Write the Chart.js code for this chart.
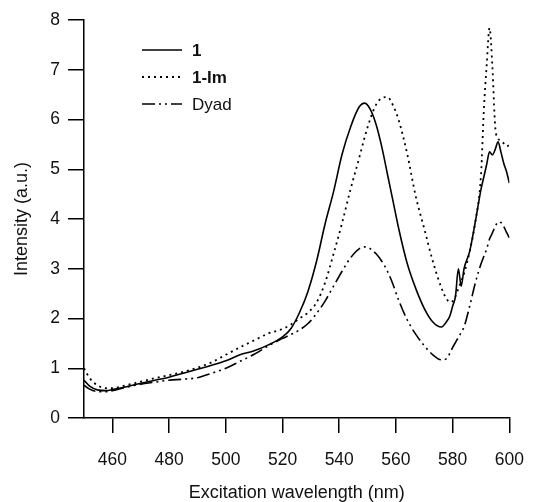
<!DOCTYPE html>
<html>
<head>
<meta charset="utf-8">
<script src="https://cdn.jsdelivr.net/npm/chart.js@4.4.1/dist/chart.umd.min.js"></script>
<style>
  body { margin:0; background:#fff; }
  #wrap { width:541px; height:502px; }
</style>
</head>
<body>
<div id="wrap"><canvas id="spec"></canvas></div>
<script>
// --- données ---
const wavelengths = [450,452,455,458,460,465,470,475,480,485,490,495,500,505,510,515,520,523,526,529,
  532,535,538,541,544,547,549,551,553,555,557,559,561,564,567,570,573,576,578,579,
  580,581,582,583,584,586,588,590,591,592,593,594,595,596,597,598,599,600];
const series1 = [0.76,0.64,0.56,0.55,0.57,0.63,0.70,0.76,0.82,0.90,0.98,1.06,1.15,1.27,1.35,1.47,1.63,1.80,2.12,2.55,
  3.15,3.90,4.55,5.30,5.85,6.25,6.33,6.20,5.90,5.45,4.90,4.35,3.80,3.10,2.60,2.20,1.93,1.83,1.95,2.05,
  2.25,2.45,3.00,2.65,3.00,3.35,3.95,4.60,4.85,5.10,5.35,5.29,5.40,5.55,5.35,5.12,4.95,4.72];
const series1Im = [1.00,0.80,0.65,0.60,0.60,0.66,0.73,0.80,0.86,0.93,1.01,1.12,1.27,1.42,1.56,1.70,1.79,1.88,2.00,2.12,
  2.32,2.72,3.30,3.92,4.60,5.22,5.65,6.02,6.30,6.43,6.45,6.28,5.98,5.30,4.45,3.80,3.15,2.62,2.38,2.33,
  2.35,2.45,2.60,2.75,2.90,3.35,3.95,4.90,6.20,7.10,7.84,7.06,5.85,5.62,5.57,5.52,5.46,5.49];
const seriesDyad = [0.66,0.58,0.53,0.53,0.55,0.62,0.68,0.72,0.76,0.78,0.81,0.90,1.00,1.14,1.28,1.45,1.60,1.68,1.77,1.90,
  2.10,2.35,2.65,2.95,3.22,3.40,3.44,3.40,3.30,3.15,2.95,2.68,2.36,1.97,1.68,1.45,1.27,1.17,1.20,1.30,
  1.42,1.52,1.62,1.72,1.83,2.25,2.72,3.10,3.25,3.40,3.60,3.72,3.85,3.94,3.93,3.85,3.73,3.62];
const legendLabels = ['1','1-Im','Dyad'];
const xTicks = [460,480,500,520,540,560,580,600];

const FONT = '"Liberation Sans", Arial, sans-serif';
const pts = vals => vals.map((v,i) => ({x: wavelengths[i], y: v}));

const styles = [
  { dash: [], width: 1.6, bold: true },
  { dash: [2,4], width: 1.8, bold: true },
  { dash: [13,4,2,4,2,4], width: 1.6, bold: false }
];

// légende dessinée à la main (gras pour 1 et 1-Im seulement)
const legendPlugin = {
  id: 'handLegend',
  afterDraw(chart) {
    const ctx = chart.ctx;
    const rows = [50, 77, 104];
    ctx.save();
    chart.data.datasets.forEach((ds, i) => {
      ctx.beginPath();
      ctx.strokeStyle = '#000';
      ctx.lineWidth = ds.borderWidth;
      ctx.setLineDash(ds.borderDash);
      ctx.moveTo(142, rows[i]); ctx.lineTo(182, rows[i]);
      ctx.stroke();
      ctx.setLineDash([]);
      ctx.fillStyle = '#111';
      ctx.font = (styles[i].bold ? 'bold ' : '') + '17px ' + FONT;
      ctx.textBaseline = 'middle';
      ctx.fillText(ds.label, 192, rows[i] + 1);
    });
    ctx.restore();
  }
};

const datasets = [series1, series1Im, seriesDyad].map((vals, i) => ({
  label: legendLabels[i],
  data: pts(vals),
  borderColor: '#000',
  borderWidth: styles[i].width,
  borderDash: styles[i].dash,
  pointRadius: 0,
  fill: false,
  cubicInterpolationMode: 'monotone'
}));

new Chart(document.getElementById('spec'), {
  type: 'line',
  data: { datasets },
  options: {
    responsive: true,
    maintainAspectRatio: false,
    animation: false,
    layout: { padding: { top: 20, right: 16, left: 0, bottom: 0 } },
    plugins: { legend: { display: false }, tooltip: { enabled: false } },
    scales: {
      x: {
        type: 'linear', min: 450, max: 600,
        afterBuildTicks: s => { s.ticks = xTicks.map(v => ({ value: v })); },
        afterFit: s => { s.height = 84; },
        border: { display: true, color: '#000', width: 1.5 },
        grid: { drawOnChartArea: false, drawTicks: true, tickLength: 15, color: '#000', lineWidth: 1.5 },
        ticks: { color: '#111', padding: 17, maxRotation: 0, font: { family: FONT, size: 17.5 } },
        title: { display: true, text: 'Excitation wavelength (nm)', color: '#111', padding: { top: 0, bottom: 0 }, font: { family: FONT, size: 18, lineHeight: 1 } }
      },
      y: {
        min: 0, max: 8,
        afterFit: s => { s.width = 84; },
        border: { display: true, color: '#000', width: 1.5 },
        grid: { drawOnChartArea: false, drawTicks: true, tickLength: 16, color: '#000', lineWidth: 1.5 },
        ticks: { stepSize: 1, color: '#111', padding: 8, font: { family: FONT, size: 17.5 } },
        title: { display: true, text: 'Intensity (a.u.)', color: '#111', padding: { top: 11, bottom: 0 }, font: { family: FONT, size: 18 } }
      }
    }
  },
  plugins: [legendPlugin]
});
</script>
</body>
</html>
